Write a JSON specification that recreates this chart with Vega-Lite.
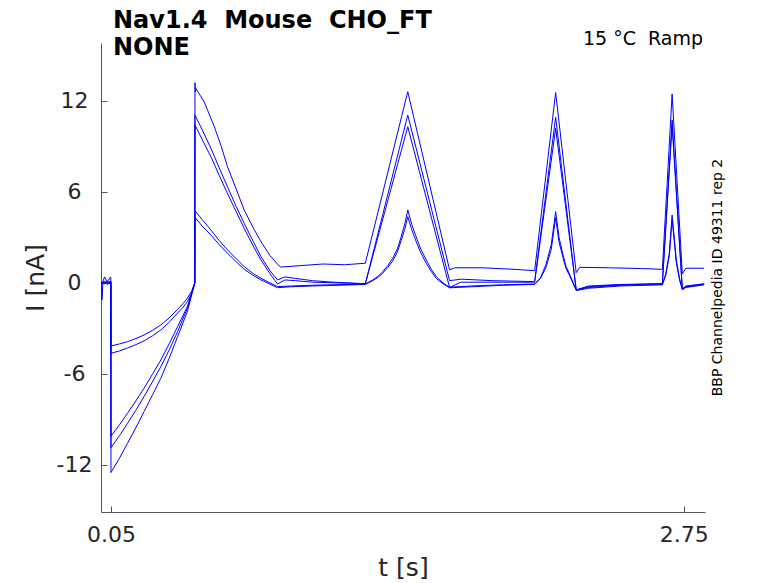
{
  "$schema": "https://vega.github.io/schema/vega-lite/v6.json",
  "width": 604,
  "height": 469,
  "autosize": {"type": "none"},
  "padding": {"left": 101, "top": 43, "right": 73, "bottom": 71},
  "background": "white",
  "title": {
    "text": ["Nav1.4\u00a0 Mouse\u00a0 CHO_FT", "NONE"],
    "anchor": "start",
    "frame": "group",
    "dx": 12,
    "offset": -30,
    "font": "DejaVu Sans",
    "fontSize": 24,
    "fontWeight": "bold",
    "color": "black",
    "lineHeight": 27
  },
  "datasets": {
    "sweeps": [
      {"trace": "A", "t": 0.003, "I": 0},
      {"trace": "A", "t": 0.008, "I": -1.1},
      {"trace": "A", "t": 0.012, "I": 0.1},
      {"trace": "A", "t": 0.02, "I": 0.4},
      {"trace": "A", "t": 0.03, "I": 0.1},
      {"trace": "A", "t": 0.04, "I": 0.2},
      {"trace": "A", "t": 0.048, "I": 0.4},
      {"trace": "A", "t": 0.0495, "I": 0.3},
      {"trace": "A", "t": 0.05, "I": -4.15},
      {"trace": "A", "t": 0.09, "I": -4.02},
      {"trace": "A", "t": 0.128, "I": -3.87},
      {"trace": "A", "t": 0.167, "I": -3.67},
      {"trace": "A", "t": 0.206, "I": -3.43},
      {"trace": "A", "t": 0.245, "I": -3.13},
      {"trace": "A", "t": 0.285, "I": -2.77},
      {"trace": "A", "t": 0.325, "I": -2.3},
      {"trace": "A", "t": 0.364, "I": -1.74},
      {"trace": "A", "t": 0.39, "I": -1.35},
      {"trace": "A", "t": 0.41, "I": -1.01},
      {"trace": "A", "t": 0.43, "I": -0.55},
      {"trace": "A", "t": 0.445, "I": 0},
      {"trace": "A", "t": 0.446, "I": 13.2},
      {"trace": "A", "t": 0.448, "I": 12.6},
      {"trace": "A", "t": 0.45, "I": 12.83},
      {"trace": "A", "t": 0.489, "I": 11.95},
      {"trace": "A", "t": 0.537, "I": 10.31},
      {"trace": "A", "t": 0.57, "I": 9.0},
      {"trace": "A", "t": 0.599, "I": 7.67},
      {"trace": "A", "t": 0.64, "I": 6.2},
      {"trace": "A", "t": 0.678, "I": 4.81},
      {"trace": "A", "t": 0.72, "I": 3.65},
      {"trace": "A", "t": 0.757, "I": 2.72},
      {"trace": "A", "t": 0.8, "I": 1.8},
      {"trace": "A", "t": 0.843, "I": 1.12},
      {"trace": "A", "t": 0.85, "I": 1.05},
      {"trace": "A", "t": 0.95, "I": 1.15},
      {"trace": "A", "t": 1.05, "I": 1.25},
      {"trace": "A", "t": 1.15, "I": 1.2},
      {"trace": "A", "t": 1.249, "I": 1.3},
      {"trace": "A", "t": 1.449, "I": 12.61},
      {"trace": "A", "t": 1.646, "I": 0.86},
      {"trace": "A", "t": 1.67, "I": 1.0},
      {"trace": "A", "t": 1.8, "I": 1.0},
      {"trace": "A", "t": 1.95, "I": 0.9},
      {"trace": "A", "t": 2.047, "I": 0.81},
      {"trace": "A", "t": 2.146, "I": 12.55},
      {"trace": "A", "t": 2.243, "I": 0.68},
      {"trace": "A", "t": 2.26, "I": 1.03},
      {"trace": "A", "t": 2.4, "I": 1.0},
      {"trace": "A", "t": 2.55, "I": 0.95},
      {"trace": "A", "t": 2.649, "I": 0.9},
      {"trace": "A", "t": 2.695, "I": 12.46},
      {"trace": "A", "t": 2.743, "I": 0.6},
      {"trace": "A", "t": 2.76, "I": 0.97},
      {"trace": "A", "t": 2.846, "I": 0.97},

      {"trace": "B", "t": 0.003, "I": 0},
      {"trace": "B", "t": 0.02, "I": 0.1},
      {"trace": "B", "t": 0.035, "I": -0.1},
      {"trace": "B", "t": 0.048, "I": 0.1},
      {"trace": "B", "t": 0.0495, "I": 0.1},
      {"trace": "B", "t": 0.05, "I": -4.64},
      {"trace": "B", "t": 0.09, "I": -4.48},
      {"trace": "B", "t": 0.128, "I": -4.29},
      {"trace": "B", "t": 0.167, "I": -4.07},
      {"trace": "B", "t": 0.206, "I": -3.82},
      {"trace": "B", "t": 0.245, "I": -3.49},
      {"trace": "B", "t": 0.285, "I": -3.1},
      {"trace": "B", "t": 0.325, "I": -2.58},
      {"trace": "B", "t": 0.364, "I": -1.98},
      {"trace": "B", "t": 0.39, "I": -1.6},
      {"trace": "B", "t": 0.41, "I": -1.23},
      {"trace": "B", "t": 0.43, "I": -0.68},
      {"trace": "B", "t": 0.445, "I": 0},
      {"trace": "B", "t": 0.446, "I": 11.07},
      {"trace": "B", "t": 0.48, "I": 10.1},
      {"trace": "B", "t": 0.521, "I": 8.88},
      {"trace": "B", "t": 0.56, "I": 7.6},
      {"trace": "B", "t": 0.599, "I": 6.35},
      {"trace": "B", "t": 0.64, "I": 5.05},
      {"trace": "B", "t": 0.678, "I": 3.93},
      {"trace": "B", "t": 0.72, "I": 2.75},
      {"trace": "B", "t": 0.757, "I": 1.74},
      {"trace": "B", "t": 0.8, "I": 0.8},
      {"trace": "B", "t": 0.835, "I": 0.2},
      {"trace": "B", "t": 0.87, "I": 0.4},
      {"trace": "B", "t": 0.92, "I": 0.3},
      {"trace": "B", "t": 1.0, "I": 0.15},
      {"trace": "B", "t": 1.1, "I": 0.05},
      {"trace": "B", "t": 1.249, "I": -0.05},
      {"trace": "B", "t": 1.449, "I": 11.07},
      {"trace": "B", "t": 1.646, "I": 0.15},
      {"trace": "B", "t": 1.7, "I": 0.25},
      {"trace": "B", "t": 1.85, "I": 0.15},
      {"trace": "B", "t": 2.047, "I": 0.09},
      {"trace": "B", "t": 2.146, "I": 10.92},
      {"trace": "B", "t": 2.243, "I": -0.46},
      {"trace": "B", "t": 2.3, "I": -0.2},
      {"trace": "B", "t": 2.45, "I": -0.1},
      {"trace": "B", "t": 2.649, "I": -0.05},
      {"trace": "B", "t": 2.695, "I": 10.75},
      {"trace": "B", "t": 2.743, "I": -0.4},
      {"trace": "B", "t": 2.76, "I": -0.2},
      {"trace": "B", "t": 2.846, "I": -0.05},

      {"trace": "C", "t": 0.003, "I": 0},
      {"trace": "C", "t": 0.02, "I": 0.05},
      {"trace": "C", "t": 0.048, "I": 0.1},
      {"trace": "C", "t": 0.0495, "I": 0.1},
      {"trace": "C", "t": 0.05, "I": -10.1},
      {"trace": "C", "t": 0.09, "I": -9.35},
      {"trace": "C", "t": 0.128, "I": -8.59},
      {"trace": "C", "t": 0.167, "I": -7.78},
      {"trace": "C", "t": 0.206, "I": -6.94},
      {"trace": "C", "t": 0.245, "I": -6.03},
      {"trace": "C", "t": 0.285, "I": -5.08},
      {"trace": "C", "t": 0.325, "I": -4.0},
      {"trace": "C", "t": 0.364, "I": -2.88},
      {"trace": "C", "t": 0.41, "I": -1.56},
      {"trace": "C", "t": 0.445, "I": 0},
      {"trace": "C", "t": 0.446, "I": 10.42},
      {"trace": "C", "t": 0.48, "I": 9.45},
      {"trace": "C", "t": 0.521, "I": 8.33},
      {"trace": "C", "t": 0.56, "I": 7.1},
      {"trace": "C", "t": 0.599, "I": 5.91},
      {"trace": "C", "t": 0.64, "I": 4.7},
      {"trace": "C", "t": 0.678, "I": 3.6},
      {"trace": "C", "t": 0.72, "I": 2.45},
      {"trace": "C", "t": 0.757, "I": 1.52},
      {"trace": "C", "t": 0.8, "I": 0.6},
      {"trace": "C", "t": 0.835, "I": -0.07},
      {"trace": "C", "t": 0.87, "I": 0.2},
      {"trace": "C", "t": 0.92, "I": 0.15},
      {"trace": "C", "t": 1.0, "I": 0.05},
      {"trace": "C", "t": 1.249, "I": -0.05},
      {"trace": "C", "t": 1.449, "I": 10.3},
      {"trace": "C", "t": 1.646, "I": -0.3},
      {"trace": "C", "t": 1.7, "I": 0.05},
      {"trace": "C", "t": 1.85, "I": 0.05},
      {"trace": "C", "t": 2.047, "I": 0.05},
      {"trace": "C", "t": 2.146, "I": 10.2},
      {"trace": "C", "t": 2.243, "I": -0.46},
      {"trace": "C", "t": 2.3, "I": -0.25},
      {"trace": "C", "t": 2.45, "I": -0.12},
      {"trace": "C", "t": 2.649, "I": -0.05},
      {"trace": "C", "t": 2.695, "I": 10.4},
      {"trace": "C", "t": 2.743, "I": -0.4},
      {"trace": "C", "t": 2.76, "I": -0.25},
      {"trace": "C", "t": 2.846, "I": -0.08},

      {"trace": "D", "t": 0.003, "I": 0},
      {"trace": "D", "t": 0.02, "I": -0.05},
      {"trace": "D", "t": 0.048, "I": 0.05},
      {"trace": "D", "t": 0.0495, "I": 0.05},
      {"trace": "D", "t": 0.05, "I": -10.86},
      {"trace": "D", "t": 0.09, "I": -10.07},
      {"trace": "D", "t": 0.128, "I": -9.25},
      {"trace": "D", "t": 0.167, "I": -8.4},
      {"trace": "D", "t": 0.206, "I": -7.49},
      {"trace": "D", "t": 0.245, "I": -6.53},
      {"trace": "D", "t": 0.285, "I": -5.52},
      {"trace": "D", "t": 0.325, "I": -4.4},
      {"trace": "D", "t": 0.364, "I": -3.21},
      {"trace": "D", "t": 0.41, "I": -1.67},
      {"trace": "D", "t": 0.445, "I": 0},
      {"trace": "D", "t": 0.446, "I": 4.77},
      {"trace": "D", "t": 0.48, "I": 4.18},
      {"trace": "D", "t": 0.521, "I": 3.49},
      {"trace": "D", "t": 0.56, "I": 2.8},
      {"trace": "D", "t": 0.599, "I": 2.18},
      {"trace": "D", "t": 0.64, "I": 1.6},
      {"trace": "D", "t": 0.678, "I": 1.08},
      {"trace": "D", "t": 0.72, "I": 0.62},
      {"trace": "D", "t": 0.757, "I": 0.31},
      {"trace": "D", "t": 0.8, "I": 0.0},
      {"trace": "D", "t": 0.835, "I": -0.24},
      {"trace": "D", "t": 0.9, "I": -0.2},
      {"trace": "D", "t": 1.0, "I": -0.15},
      {"trace": "D", "t": 1.249, "I": -0.07},
      {"trace": "D", "t": 1.284, "I": 0.2},
      {"trace": "D", "t": 1.31, "I": 0.45},
      {"trace": "D", "t": 1.331, "I": 0.75},
      {"trace": "D", "t": 1.355, "I": 1.15},
      {"trace": "D", "t": 1.378, "I": 1.63},
      {"trace": "D", "t": 1.4, "I": 2.25},
      {"trace": "D", "t": 1.418, "I": 3.05},
      {"trace": "D", "t": 1.435, "I": 3.9},
      {"trace": "D", "t": 1.449, "I": 4.81},
      {"trace": "D", "t": 1.468, "I": 3.85},
      {"trace": "D", "t": 1.488, "I": 3.06},
      {"trace": "D", "t": 1.51, "I": 2.25},
      {"trace": "D", "t": 1.536, "I": 1.52},
      {"trace": "D", "t": 1.56, "I": 0.9},
      {"trace": "D", "t": 1.583, "I": 0.42},
      {"trace": "D", "t": 1.615, "I": 0.0},
      {"trace": "D", "t": 1.646, "I": -0.28},
      {"trace": "D", "t": 1.75, "I": -0.2},
      {"trace": "D", "t": 1.9, "I": -0.12},
      {"trace": "D", "t": 2.047, "I": -0.07},
      {"trace": "D", "t": 2.075, "I": 0.35},
      {"trace": "D", "t": 2.1, "I": 1.2},
      {"trace": "D", "t": 2.125, "I": 2.5},
      {"trace": "D", "t": 2.146, "I": 4.7},
      {"trace": "D", "t": 2.162, "I": 3.0},
      {"trace": "D", "t": 2.18, "I": 1.9},
      {"trace": "D", "t": 2.195, "I": 1.1},
      {"trace": "D", "t": 2.211, "I": 0.6},
      {"trace": "D", "t": 2.243, "I": -0.46},
      {"trace": "D", "t": 2.3, "I": -0.3},
      {"trace": "D", "t": 2.45, "I": -0.15},
      {"trace": "D", "t": 2.649, "I": -0.1},
      {"trace": "D", "t": 2.665, "I": 0.6},
      {"trace": "D", "t": 2.682, "I": 2.0},
      {"trace": "D", "t": 2.695, "I": 4.48},
      {"trace": "D", "t": 2.715, "I": 1.5},
      {"trace": "D", "t": 2.73, "I": 0.3},
      {"trace": "D", "t": 2.743, "I": -0.4},
      {"trace": "D", "t": 2.76, "I": -0.25},
      {"trace": "D", "t": 2.846, "I": -0.1},

      {"trace": "E", "t": 0.003, "I": 0},
      {"trace": "E", "t": 0.02, "I": 0.05},
      {"trace": "E", "t": 0.048, "I": -0.05},
      {"trace": "E", "t": 0.0495, "I": -0.05},
      {"trace": "E", "t": 0.05, "I": -12.5},
      {"trace": "E", "t": 0.09, "I": -11.55},
      {"trace": "E", "t": 0.128, "I": -10.57},
      {"trace": "E", "t": 0.167, "I": -9.55},
      {"trace": "E", "t": 0.206, "I": -8.48},
      {"trace": "E", "t": 0.245, "I": -7.4},
      {"trace": "E", "t": 0.285, "I": -6.28},
      {"trace": "E", "t": 0.325, "I": -4.95},
      {"trace": "E", "t": 0.364, "I": -3.54},
      {"trace": "E", "t": 0.41, "I": -1.89},
      {"trace": "E", "t": 0.445, "I": 0},
      {"trace": "E", "t": 0.446, "I": 4.33},
      {"trace": "E", "t": 0.48, "I": 3.75},
      {"trace": "E", "t": 0.521, "I": 3.16},
      {"trace": "E", "t": 0.56, "I": 2.53},
      {"trace": "E", "t": 0.599, "I": 1.96},
      {"trace": "E", "t": 0.64, "I": 1.4},
      {"trace": "E", "t": 0.678, "I": 0.9},
      {"trace": "E", "t": 0.72, "I": 0.5},
      {"trace": "E", "t": 0.757, "I": 0.2},
      {"trace": "E", "t": 0.8, "I": -0.08},
      {"trace": "E", "t": 0.835, "I": -0.31},
      {"trace": "E", "t": 0.9, "I": -0.25},
      {"trace": "E", "t": 1.0, "I": -0.2},
      {"trace": "E", "t": 1.249, "I": -0.1},
      {"trace": "E", "t": 1.284, "I": 0.15},
      {"trace": "E", "t": 1.31, "I": 0.38},
      {"trace": "E", "t": 1.331, "I": 0.65},
      {"trace": "E", "t": 1.355, "I": 1.02},
      {"trace": "E", "t": 1.378, "I": 1.45},
      {"trace": "E", "t": 1.4, "I": 2.05},
      {"trace": "E", "t": 1.418, "I": 2.8},
      {"trace": "E", "t": 1.435, "I": 3.55},
      {"trace": "E", "t": 1.449, "I": 4.37},
      {"trace": "E", "t": 1.468, "I": 3.5},
      {"trace": "E", "t": 1.488, "I": 2.75},
      {"trace": "E", "t": 1.51, "I": 2.0},
      {"trace": "E", "t": 1.536, "I": 1.3},
      {"trace": "E", "t": 1.56, "I": 0.75},
      {"trace": "E", "t": 1.583, "I": 0.3},
      {"trace": "E", "t": 1.615, "I": -0.05},
      {"trace": "E", "t": 1.646, "I": -0.32},
      {"trace": "E", "t": 1.75, "I": -0.25},
      {"trace": "E", "t": 1.9, "I": -0.15},
      {"trace": "E", "t": 2.047, "I": -0.1},
      {"trace": "E", "t": 2.075, "I": 0.3},
      {"trace": "E", "t": 2.1, "I": 1.0},
      {"trace": "E", "t": 2.125, "I": 2.2},
      {"trace": "E", "t": 2.146, "I": 4.3},
      {"trace": "E", "t": 2.162, "I": 2.7},
      {"trace": "E", "t": 2.18, "I": 1.7},
      {"trace": "E", "t": 2.195, "I": 0.95},
      {"trace": "E", "t": 2.211, "I": 0.5},
      {"trace": "E", "t": 2.243, "I": -0.5},
      {"trace": "E", "t": 2.3, "I": -0.35},
      {"trace": "E", "t": 2.45, "I": -0.2},
      {"trace": "E", "t": 2.649, "I": -0.12},
      {"trace": "E", "t": 2.665, "I": 0.5},
      {"trace": "E", "t": 2.682, "I": 1.8},
      {"trace": "E", "t": 2.695, "I": 4.2},
      {"trace": "E", "t": 2.715, "I": 1.3},
      {"trace": "E", "t": 2.73, "I": 0.2},
      {"trace": "E", "t": 2.743, "I": -0.45},
      {"trace": "E", "t": 2.76, "I": -0.3},
      {"trace": "E", "t": 2.846, "I": -0.12}
    ]
  },
  "layer": [
    {
      "data": {"name": "sweeps"},
      "mark": {"type": "line", "color": "#0000ff", "strokeWidth": 1, "clip": true},
      "encoding": {
        "x": {
          "field": "t",
          "type": "quantitative",
          "scale": {"domain": [0.003, 2.85], "nice": false, "zero": false},
          "axis": {
            "values": [0.05, 2.75],
            "format": ".2f",
            "title": "t [s]",
            "labelPadding": 18,
            "titlePadding": 10
          }
        },
        "y": {
          "field": "I",
          "type": "quantitative",
          "scale": {"domain": [-15.1, 15.82], "nice": false, "zero": false},
          "axis": {
            "values": [-12, -6, 0, 6, 12],
            "labelExpr": "'' + datum.value",
            "labelAlign": "center",
            "labelPadding": 33,
            "title": "I [nA]",
            "titlePadding": 8
          }
        },
        "detail": {"field": "trace"}
      }
    },
    {
      "data": {"values": [{}]},
      "mark": {
        "type": "text",
        "text": "15 °C\u00a0 Ramp",
        "align": "right",
        "baseline": "alphabetic",
        "font": "DejaVu Sans",
        "fontSize": 19,
        "color": "black"
      },
      "encoding": {"x": {"datum": 2.841}, "y": {"datum": 15.69}}
    },
    {
      "data": {"values": [{}]},
      "mark": {
        "type": "text",
        "text": "BBP Channelpedia ID 49311 rep 2",
        "angle": 270,
        "align": "center",
        "baseline": "middle",
        "font": "DejaVu Sans",
        "fontSize": 14,
        "color": "black"
      },
      "encoding": {"x": {"datum": 2.91}, "y": {"datum": 0.36}}
    }
  ],
  "config": {
    "font": "DejaVu Sans",
    "view": {"stroke": null},
    "axis": {
      "grid": false,
      "domainColor": "#555555",
      "domainWidth": 1,
      "tickColor": "#555555",
      "tickWidth": 1,
      "tickSize": -6,
      "labelColor": "#262626",
      "titleColor": "#262626",
      "labelFont": "DejaVu Sans",
      "titleFont": "DejaVu Sans",
      "labelFontSize": 22,
      "titleFontSize": 25,
      "titleFontWeight": "normal"
    }
  }
}
